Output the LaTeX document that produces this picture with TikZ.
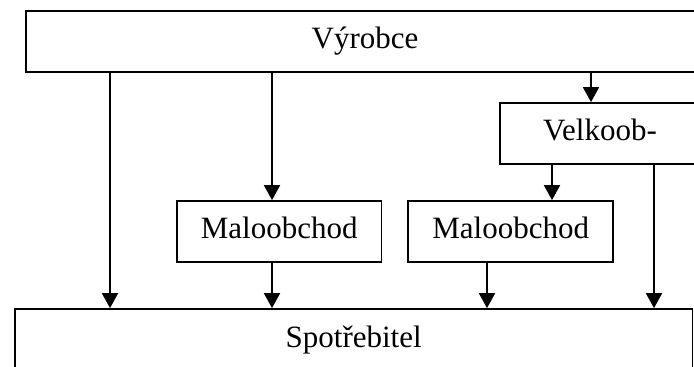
\documentclass[tikz,border=0pt]{standalone}
\usepackage{fontspec}
\setmainfont{Liberation Serif}
\usetikzlibrary{arrows.meta}

\begin{document}
\begin{tikzpicture}[x=1pt,y=-1pt,
  box/.style={draw,line width=1.7pt,inner sep=0pt,minimum height=61pt,
    font=\fontsize{31}{37}\selectfont,text height=22pt,text depth=8pt},
  arr/.style={-{Triangle[length=15pt,width=16pt]},line width=1.8pt}]
\clip (0,0) rectangle (694,367);
% boxes
\node[box,minimum width=678pt] (vyrobce) at (365,41.2) {Výrobce};
\node[box,minimum width=200pt] (velkoob) at (600,133.5) {Velkoob-};
\node[box,minimum width=204.5pt] (mo1) at (279.2,231.5) {Maloobchod};
\node[box,minimum width=205pt] (mo2) at (510.7,231.5) {Maloobchod};
\node[box,minimum width=677.3pt,minimum height=62pt] (spotrebitel) at (353.7,340) {Spotřebitel};
% x positions of the arrows
\coordinate (c1) at (110,0);
\coordinate (c2) at (272,0);
\coordinate (c3) at (591,0);
\coordinate (c4) at (552,0);
\coordinate (c5) at (654,0);
\coordinate (c6) at (487,0);
\path[arr]
  (vyrobce.south -| c1) edge (spotrebitel.north -| c1)
  (vyrobce.south -| c2) edge (mo1.north -| c2)
  (vyrobce.south -| c3) edge (velkoob.north -| c3)
  (velkoob.south -| c4) edge (mo2.north -| c4)
  (velkoob.south -| c5) edge (spotrebitel.north -| c5)
  (mo1.south -| c2) edge (spotrebitel.north -| c2)
  (mo2.south -| c6) edge (spotrebitel.north -| c6)
  ;
\end{tikzpicture}
\end{document}
